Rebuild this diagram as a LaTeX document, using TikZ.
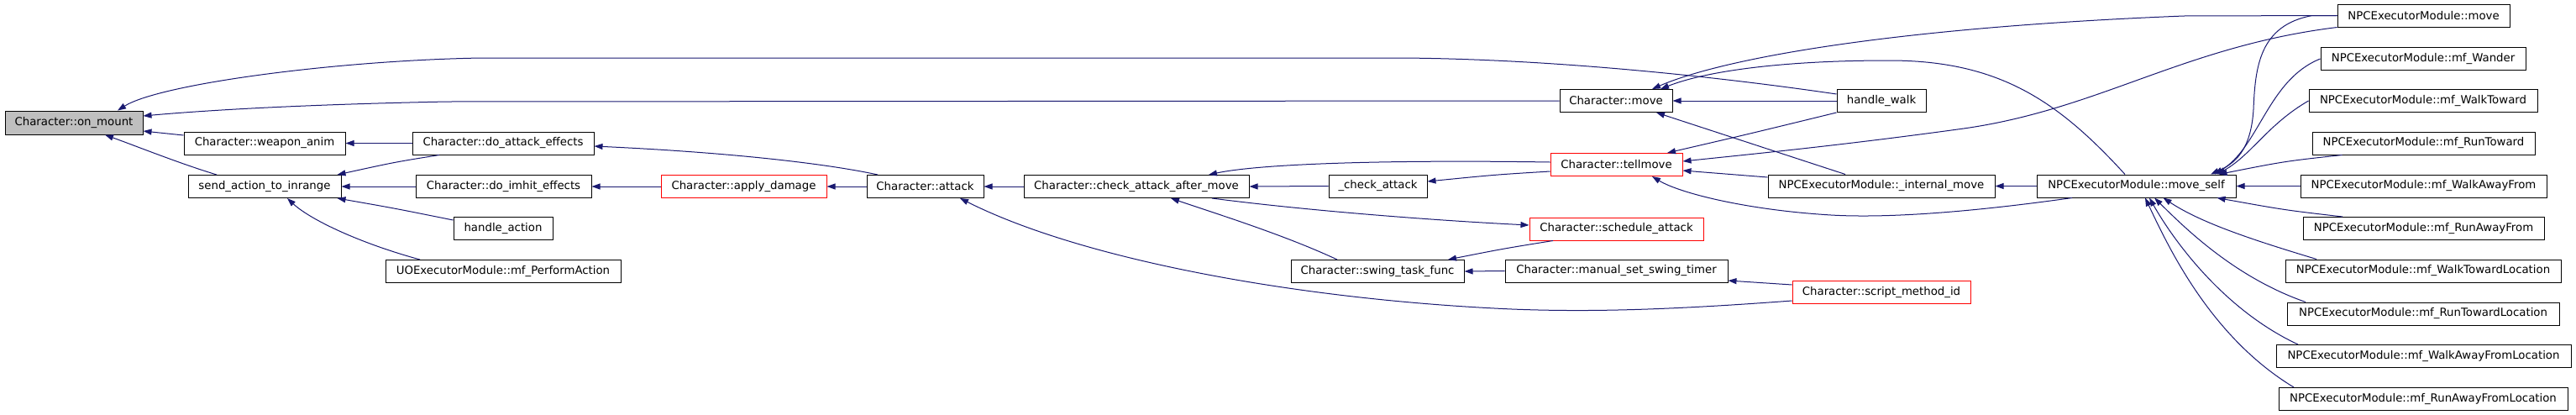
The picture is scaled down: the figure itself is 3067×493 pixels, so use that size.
\documentclass[tikz,border=0pt]{standalone}
\usepackage{fontspec}
\newfontfamily\dvfont{DejaVu Sans}
\usetikzlibrary{arrows.meta}
\definecolor{edgeblue}{RGB}{25,25,112}
\definecolor{curgray}{RGB}{191,191,191}
\begin{document}
\begin{tikzpicture}[x=1pt,y=-1pt,
  fn/.style={draw=black,line width=1pt,fill=white,inner sep=0pt,minimum height=27pt,font=\dvfont\fontsize{13.3}{15}\selectfont},
  rn/.style={fn,draw=red},
  edge/.style={draw=edgeblue,line width=1pt,-{Triangle[length=10pt,width=7pt]}}]
\useasboundingbox (0,0) rectangle (3067,493);
% nodes
\node[fn,fill=curgray,minimum width=164pt,minimum height=28pt] (om) at (88,146) {Character::on\_mount};
\node[fn,minimum width=192pt] (weapon) at (315,170.5) {Character::weapon\_anim};
\node[fn,minimum width=216pt] (doatt) at (599,170.5) {Character::do\_attack\_effects};
\node[fn,minimum width=182pt] (send) at (315,222) {send\_action\_to\_inrange};
\node[fn,minimum width=209pt] (doimhit) at (599.5,222) {Character::do\_imhit\_effects};
\node[fn,minimum width=118pt] (ha) at (599,272) {handle\_action};
\node[fn,minimum width=280pt] (perform) at (599,323) {UOExecutorModule::mf\_PerformAction};
\node[rn,minimum width=197pt] (apply) at (885.5,222) {Character::apply\_damage};
\node[fn,minimum width=139pt] (attack) at (1101.5,222) {Character::attack};
\node[fn,minimum width=268pt] (check) at (1353,222) {Character::check\_attack\_after\_move};
\node[fn,minimum width=117pt] (chk) at (1640.5,221.5) {\_check\_attack};
\node[fn,minimum width=206pt] (swing) at (1640,323) {Character::swing\_task\_func};
\node[fn,minimum width=134pt] (move) at (1924,120) {Character::move};
\node[fn,minimum width=106pt] (hw) at (2240,120) {handle\_walk};
\node[rn,minimum width=157pt] (tell) at (1924.5,196) {Character::tellmove};
\node[fn,minimum width=270pt] (internal) at (2240,221.5) {NPCExecutorModule::\_internal\_move};
\node[rn,minimum width=207pt] (sched) at (1924.5,272.5) {Character::schedule\_attack};
\node[fn,minimum width=265pt] (manual) at (1924.5,322.5) {Character::manual\_set\_swing\_timer};
\node[rn,minimum width=212pt] (script) at (2240,348) {Character::script\_method\_id};
\node[fn,minimum width=237pt] (ms) at (2543.5,221.5) {NPCExecutorModule::move\_self};
\node[fn,minimum width=205pt] (npcmove) at (2885.5,18.5) {NPCExecutorModule::move};
\node[fn,minimum width=244pt] (wander) at (2885,70) {NPCExecutorModule::mf\_Wander};
\node[fn,minimum width=272pt] (wt) at (2885,120) {NPCExecutorModule::mf\_WalkToward};
\node[fn,minimum width=265pt] (rt) at (2885.5,170.5) {NPCExecutorModule::mf\_RunToward};
\node[fn,minimum width=293pt] (wa) at (2885.5,221.5) {NPCExecutorModule::mf\_WalkAwayFrom};
\node[fn,minimum width=287pt] (ra) at (2885.5,272) {NPCExecutorModule::mf\_RunAwayFrom};
\node[fn,minimum width=328pt] (wtl) at (2885,322.5) {NPCExecutorModule::mf\_WalkTowardLocation};
\node[fn,minimum width=324pt] (rtl) at (2885,373.5) {NPCExecutorModule::mf\_RunTowardLocation};
\node[fn,minimum width=351pt] (wafl) at (2885.5,424) {NPCExecutorModule::mf\_WalkAwayFromLocation};
\node[fn,minimum width=344pt] (rafl) at (2885,475) {NPCExecutorModule::mf\_RunAwayFromLocation};
% edges
\draw[edge] ([yshift=9.5pt]weapon.west) -- ([yshift=-10pt]om.east);
\draw[edge] ([xshift=-57pt]send.north) .. controls (215,195) and (165,175) .. ([xshift=37pt]om.south);
\draw[edge] (move.west) -- (533,121) .. controls (380,124) and (260,130) .. ([yshift=8pt]om.east);
\draw[edge] ([yshift=8pt]hw.west) .. controls (2050,92) and (1850,70) .. (1666,69) -- (573,69) .. controls (400,72) and (190,100) .. ([xshift=52pt]om.north);
\draw[edge] (doatt.west) -- (weapon.east);
\draw[edge] ([xshift=-76pt]doatt.south) .. controls (470,193) .. ([xshift=-5pt]send.north east);
\draw[edge] (doimhit.west) -- (send.east);
\draw[edge] ([yshift=10pt]ha.west) .. controls (470,248) .. ([xshift=-5pt]send.south east);
\draw[edge] ([xshift=-99pt]perform.north) .. controls (430,290) and (370,262) .. ([xshift=27pt]send.south);
\draw[edge] ([xshift=-56.5pt]attack.north) .. controls (990,196) and (880,182) .. ([yshift=-3.5pt]doatt.east);
\draw[edge] (apply.west) -- (doimhit.east);
\draw[edge] (attack.west) -- (apply.east);
\draw[edge] (check.west) -- (attack.east);
\draw[edge] ([yshift=-10pt]script.west) .. controls (2000,368) and (1900,372) .. (1800,368) .. controls (1550,357) and (1290,310) .. ([xshift=41.5pt]attack.south);
\draw[edge] ([yshift=3pt]tell.west) .. controls (1650,190) and (1500,195) .. ([xshift=86pt]check.north);
\draw[edge] (chk.west) -- (check.east);
\draw[edge] ([xshift=90pt]check.south) .. controls (1550,250) and (1700,262) .. ([yshift=4.5pt]sched.west);
\draw[edge] ([xshift=-48pt]swing.north) .. controls (1530,280) and (1450,255) .. ([xshift=41pt]check.south);
\draw[edge] ([yshift=-8pt]tell.west) .. controls (1780,208) .. ([yshift=5.5pt]chk.east);
\draw[edge] ([xshift=-75.5pt]sched.south) .. controls (1790,296) .. ([xshift=84pt]swing.north);
\draw[edge] (manual.west) -- (swing.east);
\draw[edge] ([yshift=9pt]script.west) -- ([yshift=-11.5pt]manual.east);
\draw[edge] (hw.west) -- (move.east);
\draw[edge] (npcmove.west) -- (2600,19) .. controls (2250,33) and (2050,70) .. ([xshift=43pt]move.north);
\draw[edge] ([xshift=-13.5pt]ms.north) .. controls (2450,120) and (2380,72) .. (2249,72) .. controls (2120,72) and (2030,85) .. ([xshift=53pt]move.north);
\draw[edge] ([xshift=-43pt]internal.north) -- ([xshift=48pt]move.south);
\draw[edge] (hw.south west) .. controls (2080,160) .. ([xshift=60.5pt]tell.north);
\draw[edge] (npcmove.south west) .. controls (2600,55) and (2500,130) .. (2338,153) .. controls (2200,172) and (2100,182) .. ([yshift=4pt]tell.east);
\draw[edge] ([yshift=10.5pt]internal.west) -- ([yshift=-7pt]tell.east);
\draw[edge] ([xshift=-76.5pt]ms.south) .. controls (2350,252) and (2250,260) .. (2180,256) .. controls (2080,250) and (2000,230) .. ([xshift=42.5pt]tell.south);
\draw[edge] (ms.west) -- (internal.east);
\draw[edge] (npcmove.west) -- (2753,18.5) .. controls (2690,30) and (2685,80) .. (2683,130) .. controls (2680,180) and (2660,195) .. ([xshift=88.5pt]ms.north);
\draw[edge] (wander.west) .. controls (2700,95) and (2690,175) .. ([xshift=93pt]ms.north);
\draw[edge] (wt.west) .. controls (2700,148) and (2680,185) .. ([xshift=96pt]ms.north);
\draw[edge] ([xshift=-97pt]rt.south) .. controls (2720,192) .. ([xshift=98pt]ms.north);
\draw[edge] (wa.west) -- (ms.east);
\draw[edge] ([xshift=-96.5pt]ra.north) .. controls (2720,250) .. ([xshift=96pt]ms.south);
\draw[edge] ([xshift=-127pt]wtl.north) .. controls (2680,285) and (2620,265) .. ([xshift=32pt]ms.south);
\draw[edge] ([xshift=-140pt]rtl.north) .. controls (2660,330) and (2600,270) .. ([xshift=21.5pt]ms.south);
\draw[edge] ([xshift=-149.5pt]wafl.north) .. controls (2650,370) and (2590,290) .. ([xshift=15.5pt]ms.south);
\draw[edge] ([xshift=-154pt]rafl.north) .. controls (2630,400) and (2580,290) .. ([xshift=10.5pt]ms.south);
\end{tikzpicture}
\end{document}
